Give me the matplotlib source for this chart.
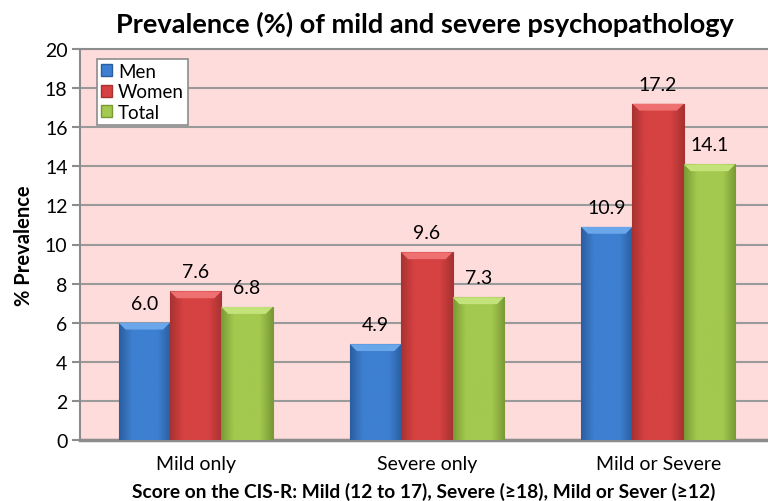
import numpy as np
import matplotlib
matplotlib.use("Agg")
import matplotlib.pyplot as plt
from matplotlib.colors import LinearSegmentedColormap
from matplotlib.patches import Patch

categories = ["Mild only", "Severe only", "Mild or Severe"]
series_names = ["Men", "Women", "Total"]
men = [6.0, 4.9, 10.9]
women = [7.6, 9.6, 17.2]
total = [6.8, 7.3, 14.1]
yticks = [0, 2, 4, 6, 8, 10, 12, 14, 16, 18, 20]

plt.rcParams['font.family'] = ['Lato', 'DejaVu Sans']

base_cols = ["#3d7fd0", "#d64141", "#a4c94f"]
dark_cols = ["#2b5e9f", "#a83232", "#7a9a35"]
light_cols = ["#6aa6ea", "#ee7070", "#c4e27a"]

fig = plt.figure(figsize=(7.68, 5.02), dpi=100)
ax = fig.add_axes([80/768, 61/502, 688/768, 391/502])
ax.set_facecolor("#ffdcdc")

x = np.arange(len(categories))
w = 0.222
data = [men, women, total]
for i, vals in enumerate(data):
    pos = x + (i - 1) * w
    bars = ax.bar(pos, vals, width=w, color=base_cols[i], edgecolor=dark_cols[i],
                  linewidth=0.8, zorder=3, label=series_names[i])
    cmap = LinearSegmentedColormap.from_list("g", [dark_cols[i], base_cols[i], base_cols[i], base_cols[i], dark_cols[i]])
    for b, v, p in zip(bars, vals, pos):
        grad = np.linspace(0, 1, 100).reshape(1, -1)
        im = ax.imshow(grad, extent=[p - w/2, p + w/2, 0, v], aspect="auto",
                       cmap=cmap, zorder=3.5, interpolation="bilinear")
        im.set_clip_path(b)
        ax.fill([p - w/2, p + w/2, p + w/2 - 0.03, p - w/2 + 0.03],
                [v, v, v - 0.35, v - 0.35], color=light_cols[i], zorder=4, lw=0)
        ax.annotate(f"{v:.1f}", (p, v), xytext=(0, 8), textcoords="offset points",
                    ha="center", va="bottom", fontsize=14, zorder=5)

ax.set_xlim(-0.5, 2.475)
ax.set_ylim(0, 20)
ax.set_yticks(yticks)
ax.set_yticklabels([str(t) for t in yticks], fontsize=14)
ax.set_xticks(x)
ax.set_xticklabels(categories, fontsize=14)
ax.tick_params(axis="x", length=0, pad=11)
ax.tick_params(axis="y", length=6, color="#8c8c8c", width=1.5, pad=3)
ax.grid(axis="y", color="#9a9a9a", linewidth=1.5, zorder=1)
ax.set_axisbelow(True)
for s in ["left", "bottom", "top"]:
    ax.spines[s].set_color("#8c8c8c")
    ax.spines[s].set_linewidth(1.5)
ax.spines["right"].set_visible(False)
ax.spines["bottom"].set_linewidth(2.5)

ax.set_ylabel("% Prevalence", fontsize=14.5, fontweight="bold", labelpad=8)
ax.set_xlabel("Score on the CIS-R: Mild (12 to 17), Severe (\u226518), Mild or Sever (\u226512)",
              fontsize=13.8, fontweight="bold", labelpad=7)
fig.text(425/768, 1 - 24/502, "Prevalence (%) of mild and severe psychopathology",
         ha="center", va="center", fontsize=19.5, fontweight="bold")

handles = [Patch(facecolor=base_cols[i], edgecolor=dark_cols[i]) for i in range(3)]
leg = ax.legend(handles, series_names, loc="upper left", bbox_to_anchor=(0.025, 0.975),
                fontsize=13.5, frameon=True, fancybox=False, edgecolor="#8c8c8c",
                facecolor="white", framealpha=1, handlelength=0.6, handleheight=0.6,
                handletextpad=0.3, labelspacing=0.2, borderpad=0.2, borderaxespad=0)
leg.get_frame().set_linewidth(1.2)
leg.set_zorder(6)

fig.savefig("out.png", dpi=100)
